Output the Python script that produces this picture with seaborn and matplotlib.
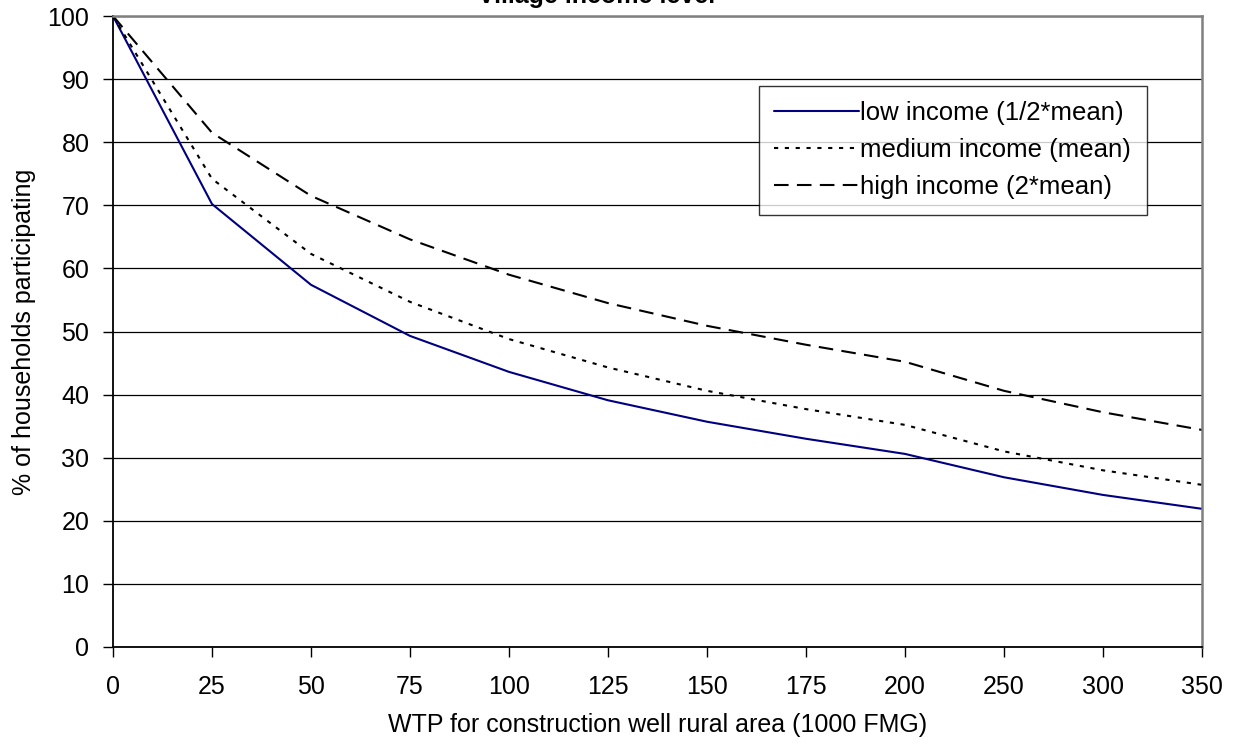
import numpy as np
import pandas as pd
import matplotlib
matplotlib.use("Agg")
import matplotlib.pyplot as plt
import seaborn as sns

# WTP categories (1000 FMG) - equally spaced category axis
wtp = ["0", "25", "50", "75", "100", "125", "150", "175", "200", "250", "300", "350"]

low_income = [100, 70.2, 57.4, 49.3, 43.6, 39.1, 35.7, 33.0, 30.6, 26.9, 24.1, 21.9]
medium_income = [100, 74.2, 62.3, 54.7, 48.8, 44.3, 40.6, 37.7, 35.2, 31.0, 28.0, 25.7]
high_income = [100, 81.5, 71.5, 64.6, 59.0, 54.5, 50.9, 47.9, 45.2, 40.6, 37.2, 34.4]

series_names = ["low income (1/2*mean)", "medium income (mean)", "high income (2*mean)"]

sns.set_style("white")
plt.rcParams['font.family'] = ['Liberation Sans', 'DejaVu Sans']
plt.rcParams['text.color'] = 'black'
plt.rcParams['axes.labelcolor'] = 'black'

pos = np.arange(len(wtp))
df = pd.DataFrame({
    "pos": np.tile(pos, 3),
    "value": low_income + medium_income + high_income,
    "series": np.repeat(series_names, len(wtp)),
})

W, H = 1239, 748
L, R, T, B = 113, 1202, 16, 647
fig = plt.figure(figsize=(W / 100, H / 100), dpi=100)
ax = fig.add_axes([L / W, 1 - B / H, (R - L) / W, (B - T) / H])

sns.lineplot(
    data=df, x="pos", y="value", hue="series", style="series",
    palette={series_names[0]: "#000080", series_names[1]: "black", series_names[2]: "black"},
    dashes={series_names[0]: "", series_names[1]: (2.0, 3.2), series_names[2]: (7, 4)},
    linewidth=1.5, ax=ax, legend=True,
)

ax.set_xlim(0, len(wtp) - 1)
ax.set_ylim(0, 100)
ax.set_xticks(pos)
ax.set_xticklabels(wtp)
ax.set_yticks(np.arange(0, 101, 10))
ax.yaxis.grid(True, color="black", linewidth=0.9)
ax.set_axisbelow(True)
ax.tick_params(axis="both", direction="out", length=7, width=1, labelsize=18,
               colors="black", bottom=True, left=True)
ax.tick_params(axis="y", pad=10)
ax.tick_params(axis="x", pad=13)

for side in ["left", "bottom"]:
    ax.spines[side].set_color("black")
    ax.spines[side].set_linewidth(1.3)
for side in ["top", "right"]:
    ax.spines[side].set_color("#808080")
    ax.spines[side].set_linewidth(1.8)

ax.set_xlabel("WTP for construction well rural area (1000 FMG)", fontsize=18, labelpad=10)
ax.set_ylabel("% of households participating", fontsize=18, labelpad=8)

leg = ax.legend(loc="upper left", bbox_to_anchor=((759 - L) / (R - L), (B - 86) / (B - T)),
                fontsize=18.5, frameon=True, fancybox=False, handlelength=3.3,
                borderpad=0.6, labelspacing=0.5, handletextpad=0.05, borderaxespad=0)
leg.get_frame().set_edgecolor("black")
leg.get_frame().set_linewidth(1.0)

fig.text(597 / W, 1 - 3 / H, "Village income level", ha="center", va="baseline",
         fontsize=18, fontweight="bold")

fig.savefig("out.png", dpi=100)
